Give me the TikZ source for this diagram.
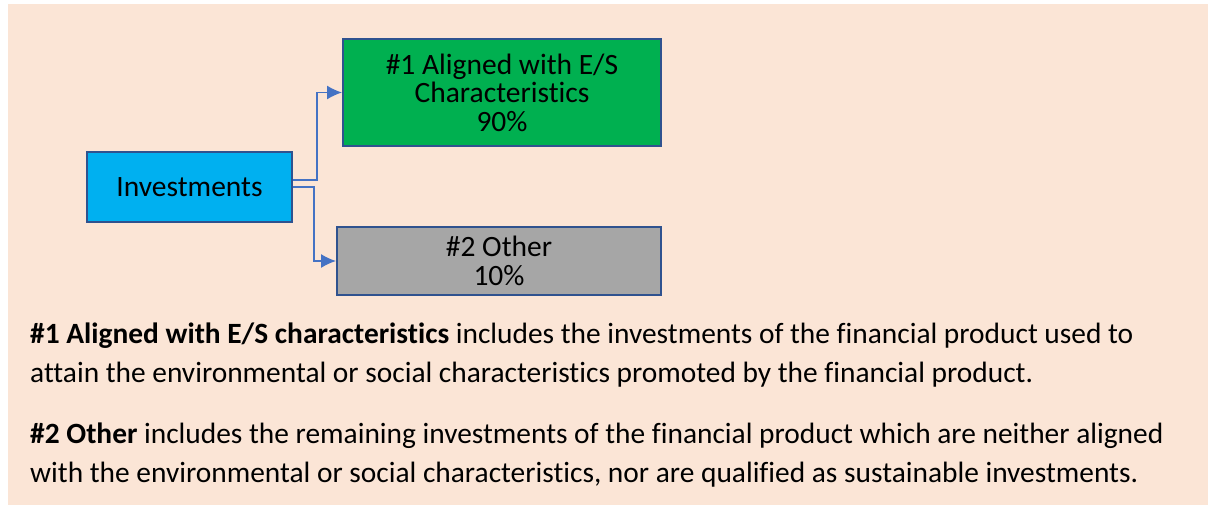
\documentclass[tikz,border=0pt]{standalone}
\usepackage{fontspec}
\setmainfont{Carlito}[Ligatures=NoCommon]
\usepackage{tikz}
\usetikzlibrary{arrows.meta, positioning, calc}

\definecolor{panelbg}{HTML}{FBE5D6}
\definecolor{boxline}{HTML}{2F528F}
\definecolor{linkblue}{HTML}{4472C4}
\definecolor{invblue}{HTML}{00B0F0}
\definecolor{esgreen}{HTML}{00B050}
\definecolor{othergray}{HTML}{A6A6A6}

\begin{document}
\begin{tikzpicture}[x=1pt, y=-1pt, >={Latex[length=15pt, width=14pt]},
  box/.style={draw=boxline, line width=2pt, inner sep=0pt, align=center,
    font=\fontsize{29.5}{28.5}\selectfont},
  link/.style={draw=linkblue, line width=1.4pt, ->},
  note/.style={inner sep=0pt, align=left, anchor=base west,
    font=\fontsize{29.4}{39}\selectfont}]
\useasboundingbox (0,0) rectangle (1208,507);
\fill[panelbg] (8,4) rectangle (1208,505);

\node [box, fill=invblue, minimum width=205pt, minimum height=70pt] (inv) at (189.5,187) {Investments};
\node [box, fill=esgreen, minimum width=318pt, minimum height=107pt] (al) at (502,92.5) {\#1 Aligned with E/S\\Characteristics\\90\%};
\node [box, fill=othergray, minimum width=324pt, minimum height=68pt] (ot) at (499,261) {\#2 Other\\10\%};

\draw[link] ($(inv.east)+(0,-7)$) -- ++(24,0) |- (al.west);
\draw[link] (inv.east) -- ++(21,0) |- (ot.west);

% base anchor sits on the last line
\node [note] (n1) at (30,382) {\textbf{\#1 Aligned with E/S characteristics} includes the investments of the financial product used to\\attain the environmental or social characteristics promoted by the financial product.};
\node [note] (n2) at (30,482) {\textbf{\#2 Other} includes the remaining investments of the financial product which are neither aligned\\with the environmental or social characteristics, nor are qualified as sustainable investments.};
\end{tikzpicture}
\end{document}
